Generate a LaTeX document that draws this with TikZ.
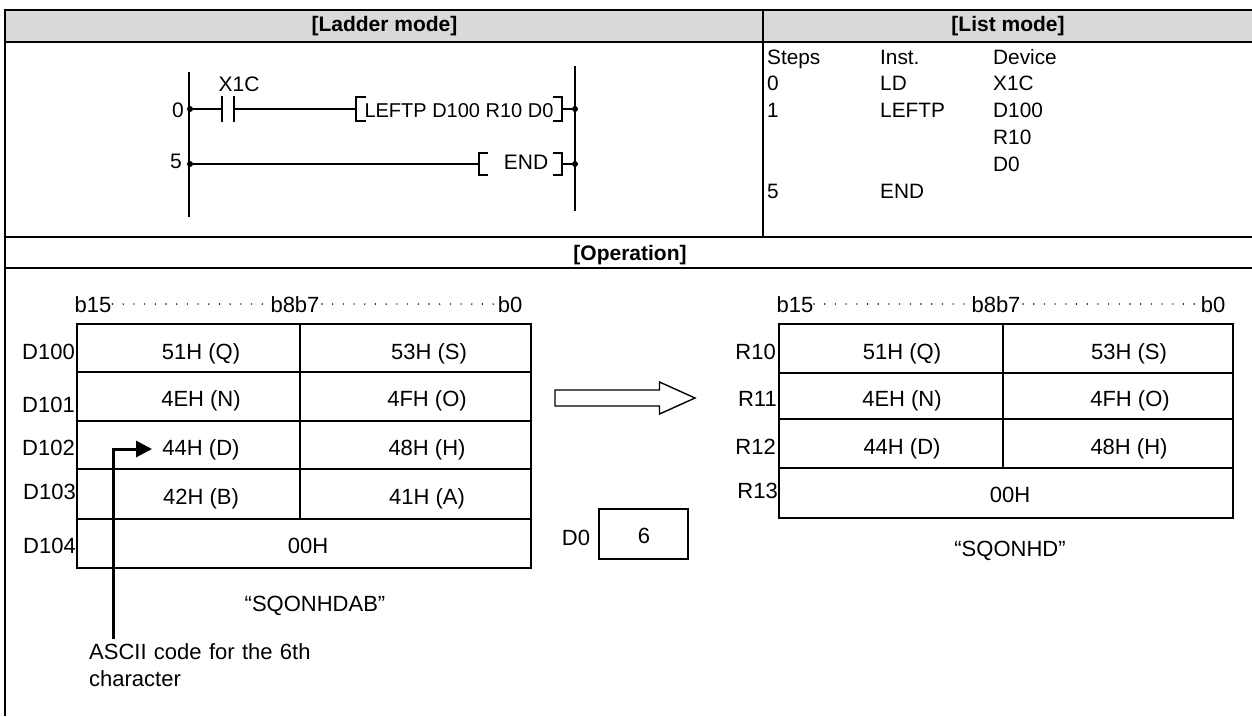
\documentclass[tikz,border=0pt]{standalone}
\usepackage{fontspec}
\setmainfont{Liberation Sans}
\usepackage{xcolor}
\usetikzlibrary{arrows.meta}
\definecolor{headgray}{RGB}{217,217,217}
\tikzset{
  frameline/.style={line width=2pt},
  rail/.style={line width=1.4pt},
  gridline/.style={line width=1.4pt},
  txt/.style={inner sep=0pt, text height=15pt, text depth=0pt, font=\fontsize{22}{25}\selectfont},
  ladtxt/.style={txt, font=\fontsize{21}{24}\selectfont},
  listtxt/.style={txt, anchor=west, font=\fontsize{20.8}{24}\selectfont},
  headtxt/.style={inner sep=0pt, text height=15pt, text depth=0pt, font=\fontsize{21}{24}\selectfont\bfseries},
  righttxt/.style={txt, anchor=east},
  junction/.style={circle, fill=black, inner sep=0pt, minimum size=6pt},
  bitdots/.style={line width=1.6pt, line cap=round, dash pattern=on 0pt off 10.7pt},
}
\begin{document}
\begin{tikzpicture}[x=1pt, y=-1pt, >={Triangle[length=16pt,width=16pt]}]
\useasboundingbox (0,0) rectangle (1252,716);
% table frame
\fill[headgray] (5,10) rectangle (1252,41);
\draw[frameline] (5,716) -- (5,10) -- (1252,10);
\draw[frameline] (5,42) -- (1252,42);
\draw[frameline] (5,237) -- (1252,237);
\draw[frameline] (5,268) -- (1252,268);
\draw[frameline] (763,10) -- (763,237);
\node[headtxt] (hLadder) at (384.5,24) {[Ladder mode]};
\node[headtxt] (hList) at (1008,24) {[List mode]};
\node[headtxt] (hOper) at (630,253) {[Operation]};
% ladder
\coordinate (railLa) at (189,72); \coordinate (railLb) at (189,217);
\coordinate (railRa) at (575,66); \coordinate (railRb) at (575,211);
\draw[rail] (railLa) -- (railLb); \draw[rail] (railRa) -- (railRb);
\node[junction] (j0) at (190,109) {}; \node[junction] (j5) at (190,164) {};
\node[junction] (k0) at (575,109) {}; \node[junction] (k5) at (575,164) {};
\node[ladtxt] (step0) at (178,110) {0};
\node[ladtxt] (step5) at (176,161) {5};
\node[ladtxt] (x1c) at (239,84) {X1C};
\coordinate (ca) at (222,109); \coordinate (cb) at (234,109);
\draw[rail] (222,96) -- (222,122); \draw[rail] (234,96) -- (234,122);
\coordinate (bra) at (356,109); \coordinate (brb) at (562,109);
\coordinate (brc) at (479,164); \coordinate (brd) at (562,164);
\draw[rail] (j0) -- (ca); \draw[rail] (cb) -- (bra); \draw[rail] (brb) -- (k0);
\draw[rail] (j5) -- (brc); \draw[rail] (brd) -- (k5);
\draw[rail] (366,97) -- (356,97) -- (356,121) -- (366,121);
\draw[rail] (553,97) -- (562,97) -- (562,121) -- (553,121);
\draw[rail] (488,153) -- (479,153) -- (479,175) -- (488,175);
\draw[rail] (553,153) -- (562,153) -- (562,175) -- (553,175);
\node[ladtxt, font=\fontsize{20}{24}\selectfont] (leftp) at (459,110) {LEFTP D100 R10 D0};
\node[ladtxt] (endi) at (526,162) {END};
% list
\node[listtxt] (lsteps) at (767,57) {Steps};
\node[listtxt] (linst) at (880,57) {Inst.};
\node[listtxt] (ldev) at (993,57) {Device};
\node[listtxt] (l0) at (767,83) {0};
\node[listtxt] (lld) at (880,83) {LD};
\node[listtxt] (lx1c) at (993,83) {X1C};
\node[listtxt] (l1) at (767,110) {1};
\node[listtxt] (llftp) at (880,110) {LEFTP};
\node[listtxt] (ld100) at (993,110) {D100};
\node[listtxt] (lr10) at (993,137) {R10};
\node[listtxt] (ld0) at (993,164) {D0};
\node[listtxt] (l5) at (767,191) {5};
\node[listtxt] (lend) at (880,191) {END};
% source words
\node[txt] (sb15) at (93,305) {b15};
\node[txt] (sb87) at (295,305) {b8b7};
\node[txt] (sb0) at (510,305) {b0};
\draw[bitdots] (112.5,304) -- (267,304);
\draw[bitdots] (322,304) -- (494,304);
\draw[gridline] (77,324) rectangle (531,568);
\draw[gridline] (77,372) -- (531,372);
\draw[gridline] (77,421) -- (531,421);
\draw[gridline] (77,469) -- (531,469);
\draw[gridline] (77,519) -- (531,519);
\draw[gridline] (300,324) -- (300,519);
\node[righttxt] (d100) at (75,352) {D100};
\node[righttxt] (d101) at (75,405) {D101};
\node[righttxt] (d102) at (75,448) {D102};
\node[righttxt] (d103) at (76,492) {D103};
\node[righttxt] (d104) at (76,546) {D104};
\node[txt] (sq) at (201,352) {51H (Q)}; \node[txt] (ss) at (429,352) {53H (S)};
\node[txt] (sn) at (201,399) {4EH (N)}; \node[txt] (so) at (427,399) {4FH (O)};
\node[txt] (sd) at (201,448) {44H (D)}; \node[txt] (sh) at (427,448) {48H (H)};
\node[txt] (sbb) at (201,497) {42H (B)}; \node[txt] (sa) at (427,497) {41H (A)};
\node[txt] (sz) at (308,546) {00H};
\node[txt] (sstr) at (315,604) {“SQONHDAB”};
\node[txt, anchor=north west, align=left, text width=260pt, font=\fontsize{22}{27}\selectfont] (note) at (89,644.5) {ASCII code for the 6th\\character};
\coordinate (noteup) at (113,639);
\coordinate (notetip) at (152,449);
\draw[line width=3pt, ->] (noteup) |- (notetip);
% transfer arrow
\draw[gridline] (555,390) -- (659.5,390) -- (659.5,382) -- (695,398) -- (659.5,414) -- (659.5,406) -- (555,406) -- cycle;
% length
\node[txt] (d0) at (576,538) {D0};
\draw[gridline] (599,509) rectangle (688,559);
\node[txt] (six) at (644,536) {6};
% destination words
\node[txt] (db15) at (795,305) {b15};
\node[txt] (db87) at (996,305) {b8b7};
\node[txt] (db0) at (1213,305) {b0};
\draw[bitdots] (814,304) -- (967,304);
\draw[bitdots] (1023,304) -- (1197,304);
\draw[gridline] (779,324) rectangle (1233,518);
\draw[gridline] (779,373) -- (1233,373);
\draw[gridline] (779,419) -- (1233,419);
\draw[gridline] (779,468) -- (1233,468);
\draw[gridline] (1003,324) -- (1003,468);
\node[righttxt] (r10) at (776,352) {R10};
\node[righttxt] (r11) at (777,399) {R11};
\node[righttxt] (r12) at (776,447) {R12};
\node[righttxt] (r13) at (778,491) {R13};
\node[txt] (dq) at (902,352) {51H (Q)}; \node[txt] (ds) at (1129,352) {53H (S)};
\node[txt] (dn) at (902,399) {4EH (N)}; \node[txt] (do) at (1130,399) {4FH (O)};
\node[txt] (dd) at (902,447) {44H (D)}; \node[txt] (dh) at (1129,447) {48H (H)};
\node[txt] (dz) at (1010,495) {00H};
\node[txt] (dstr) at (1010,549) {“SQONHD”};
\end{tikzpicture}
\end{document}
